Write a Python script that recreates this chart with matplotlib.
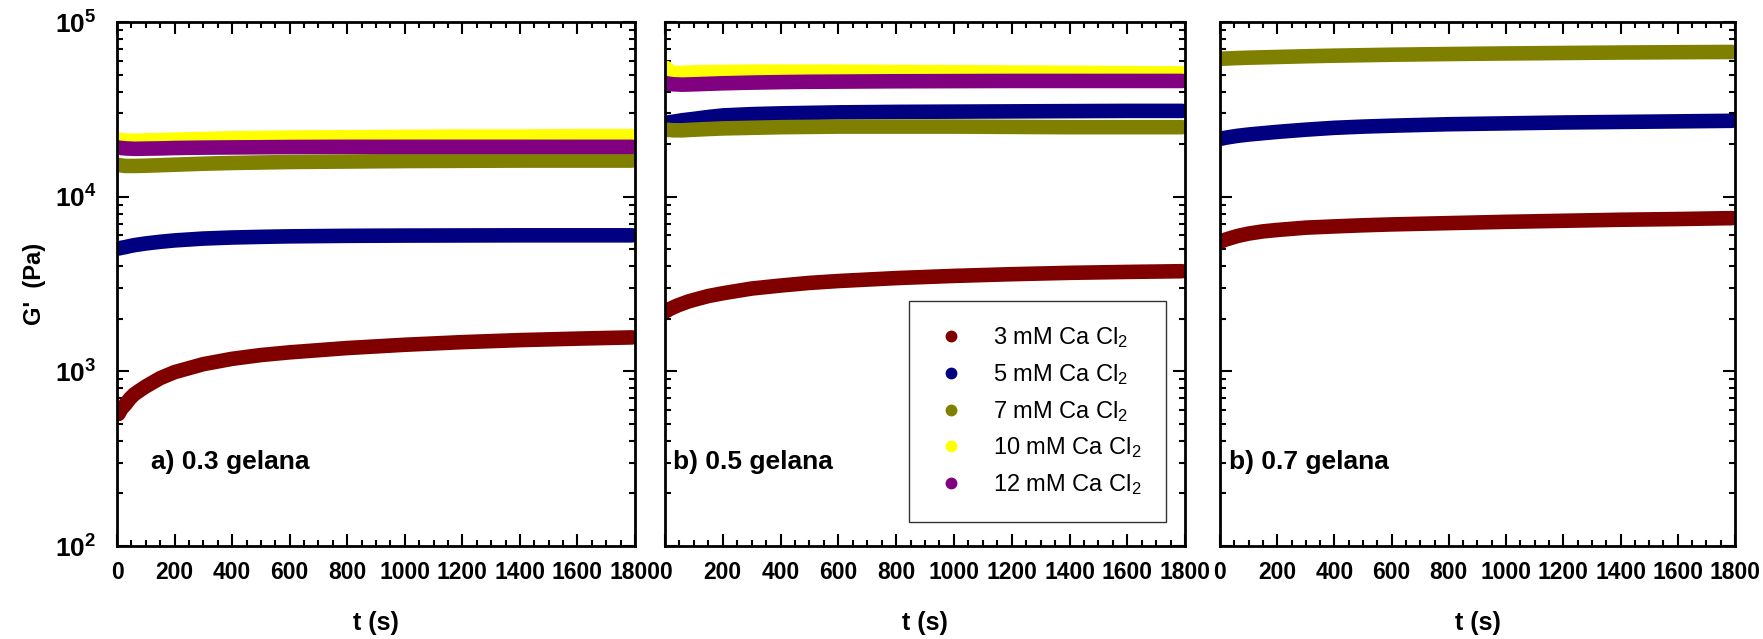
import matplotlib
matplotlib.use("Agg")
import matplotlib.pyplot as plt
from matplotlib.lines import Line2D
from matplotlib.ticker import MultipleLocator, LogLocator, NullFormatter, FuncFormatter
import numpy as np

plt.rcParams['font.family'] = ['Liberation Sans', 'DejaVu Sans']
plt.rcParams['mathtext.fontset'] = 'custom'
plt.rcParams['mathtext.rm'] = 'Liberation Sans'
plt.rcParams['mathtext.bf'] = 'Liberation Sans:bold'
plt.rcParams['mathtext.it'] = 'Liberation Sans:italic'

# time points (s)
t = [5, 15, 30, 45, 60, 80, 100, 150, 200, 300, 400, 500, 600, 800, 1000, 1200, 1400, 1600, 1790]

labels = ["3 mM Ca Cl$_{\\mathregular{2}}$", "5 mM Ca Cl$_{\\mathregular{2}}$",
          "7 mM Ca Cl$_{\\mathregular{2}}$", "10 mM Ca Cl$_{\\mathregular{2}}$",
          "12 mM Ca Cl$_{\\mathregular{2}}$"]
colors = ["#800000", "#000080", "#808000", "#ffff00", "#800080"]

# a) 0.3 gelana
g03_3 = [570, 610, 650, 700, 740, 780, 820, 915, 990, 1100, 1180, 1240, 1285, 1360, 1420, 1470, 1510, 1540, 1565]
g03_5 = [5050, 5100, 5150, 5220, 5280, 5340, 5400, 5520, 5620, 5760, 5840, 5890, 5930, 5970, 5990, 6000, 6010, 6010, 6010]
g03_7 = [15200, 15100, 15000, 15000, 15000, 15020, 15050, 15150, 15250, 15450, 15600, 15700, 15800, 15900, 16000, 16050, 16100, 16100, 16100]
g03_10 = [21200, 21100, 21000, 20950, 20900, 20950, 21000, 21100, 21200, 21400, 21600, 21700, 21800, 21900, 22000, 22100, 22100, 22200, 22200]
g03_12 = [19100, 19000, 18900, 18850, 18800, 18820, 18850, 18900, 19000, 19100, 19150, 19200, 19250, 19300, 19300, 19300, 19300, 19300, 19300]

# b) 0.5 gelana
g05_3 = [2213, 2270, 2330, 2390, 2440, 2510, 2566, 2700, 2800, 2980, 3100, 3210, 3290, 3420, 3520, 3600, 3665, 3710, 3745]
g05_5 = [26500, 26700, 26900, 27150, 27400, 27650, 27900, 28600, 29200, 29700, 30000, 30200, 30400, 30600, 30700, 30800, 30900, 31000, 31000]
g05_7 = [24200, 24100, 24000, 24000, 24000, 24100, 24200, 24400, 24600, 24800, 25000, 25100, 25200, 25200, 25200, 25100, 25000, 25000, 25000]
g05_10 = [54600, 52000, 51000, 51100, 51200, 51350, 51500, 51700, 51800, 52000, 52000, 52000, 52000, 51800, 51600, 51400, 51200, 51000, 50800]
g05_12 = [44600, 44300, 44000, 43900, 43800, 43900, 44000, 44300, 44600, 45000, 45300, 45500, 45600, 45800, 45900, 46000, 46000, 46000, 46000]

# b) 0.7 gelana
g07_3 = [5550, 5650, 5750, 5850, 5950, 6050, 6150, 6330, 6450, 6650, 6760, 6860, 6940, 7060, 7180, 7280, 7380, 7450, 7540]
g07_5 = [21500, 21700, 21900, 22100, 22300, 22500, 22700, 23100, 23500, 24200, 24800, 25200, 25500, 26000, 26300, 26600, 26800, 27000, 27200]
g07_7 = [61600, 61750, 61900, 62050, 62200, 62350, 62500, 62800, 63100, 63700, 64200, 64600, 65000, 65600, 66100, 66500, 66900, 67200, 67400]

panels = [
    ("a) 0.3 gelana", [g03_3, g03_5, g03_7, g03_10, g03_12]),
    ("b) 0.5 gelana", [g05_3, g05_5, g05_7, g05_10, g05_12]),
    ("b) 0.7 gelana", [g07_3, g07_5, g07_7]),
]

fig = plt.figure(figsize=(17.63, 6.39), dpi=100)
rects = [[0.0664, 0.1455, 0.2938, 0.820],
         [0.3772, 0.1455, 0.2950, 0.820],
         [0.6920, 0.1455, 0.2921, 0.820]]
label_x = [0.065, 0.015, 0.017]

ylab = FuncFormatter(lambda v, p: r'$\mathbf{10^{%d}}$' % int(round(np.log10(v))))

axes = []
for i, (title, series) in enumerate(panels):
    ax = fig.add_axes(rects[i])
    for vals, c in zip(series, colors):
        ax.plot(t, vals, color=c, lw=10.5, solid_capstyle='round', solid_joinstyle='round')
    ax.set_yscale('log')
    ax.set_ylim(1e2, 1e5)
    ax.set_xlim(0, 1800)
    ax.xaxis.set_major_locator(MultipleLocator(200))
    ax.xaxis.set_minor_locator(MultipleLocator(50))
    ax.yaxis.set_major_locator(LogLocator(base=10))
    ax.yaxis.set_minor_locator(LogLocator(base=10, subs=range(2, 10)))
    ax.yaxis.set_major_formatter(ylab)
    ax.yaxis.set_minor_formatter(NullFormatter())
    ax.tick_params(which='both', direction='in', top=True, right=True, width=1.5)
    ax.tick_params(which='major', length=8.6)
    ax.tick_params(which='minor', length=4.3)
    ax.tick_params(axis='x', labelsize=16.5, pad=11)
    ax.tick_params(axis='y', labelsize=19, pad=15)
    for lab in ax.get_xticklabels():
        lab.set_fontweight('bold')
    for sp in ax.spines.values():
        sp.set_linewidth(2)
    if i > 0:
        ax.set_yticklabels([])
    ax.set_xlabel("t (s)", fontsize=18, fontweight='bold', labelpad=19)
    ax.text(label_x[i], 0.16, title, transform=ax.transAxes, fontsize=19,
            fontweight='bold', va='center', ha='left')
    axes.append(ax)

fig.text(34 / 1763, 1 - 284 / 639, "G'  (Pa)", rotation=90, fontsize=17,
         fontweight='bold', ha='center', va='center')

handles = [Line2D([], [], ls='none', marker='o', ms=7.5, color=c) for c in colors]
leg = axes[1].legend(handles, labels, loc='lower right', bbox_to_anchor=(0.963, 0.046),
                     borderaxespad=0, fontsize=17, frameon=True, fancybox=False,
                     edgecolor='black', handlelength=1.5, handletextpad=1.0,
                     borderpad=1.05, labelspacing=0.5)
leg.get_frame().set_linewidth(1.0)

fig.savefig("out.png", dpi=100)
